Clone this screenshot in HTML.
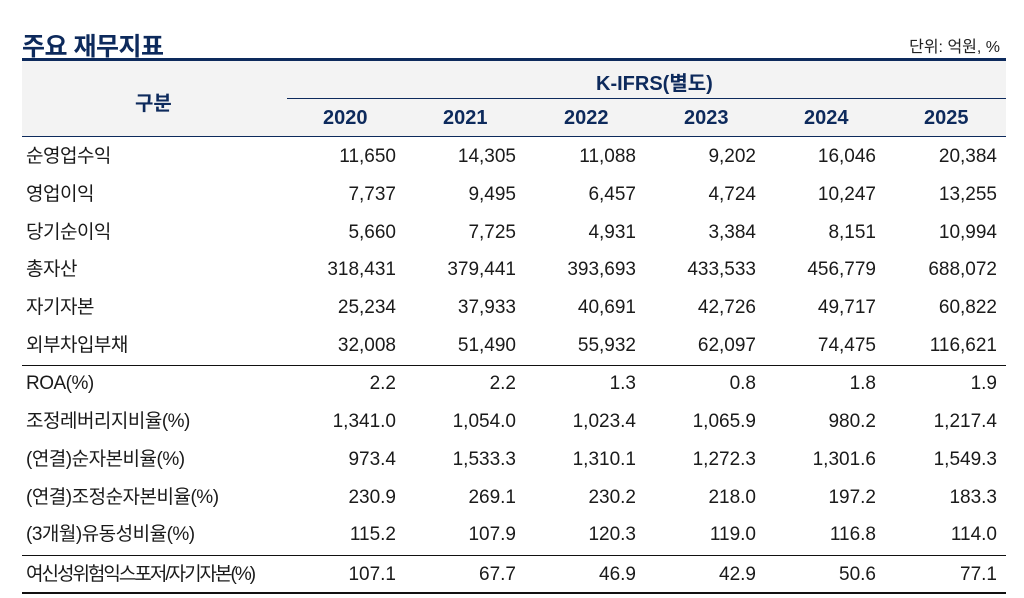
<!DOCTYPE html>
<html><head><meta charset="utf-8"><style>
body{margin:0;width:1024px;height:598px;background:#fff;position:relative;overflow:hidden;font-family:"Liberation Sans","Noto Sans CJK KR",sans-serif;}
div{position:absolute;white-space:nowrap}
.t{font-size:25px;font-weight:bold;color:#0d2a5c;left:22px;top:27px;letter-spacing:-0.5px}
.u{font-size:16px;color:#222;right:24px;top:33px}
.bg{left:22px;top:61px;width:984px;height:76px;background:#f3f3f3}
.ln{left:22px;width:984px;height:1px;background:#111}
.h{font-size:20px;font-weight:bold;color:#0d2a5c}
.r{font-size:19px;color:#1a1a1a;height:38px;line-height:38px}
.lab{left:26px;letter-spacing:-0.5px}
.n{text-align:right;width:110px}
</style></head><body>
<div class="t">주요 재무지표</div>
<div class="u">단위: 억원, %</div>
<div class="bg"></div>
<div style="left:22px;top:58px;width:984px;height:3px;background:#0d2a5c"></div>
<div style="left:287px;top:98px;width:719px;height:1px;background:#0d2a5c"></div>
<div style="left:22px;top:136px;width:984px;height:1px;background:#0d2a5c"></div>
<div class="h" style="left:135px;top:87px">구분</div>
<div class="h" style="left:596px;top:67px">K-IFRS(별도)</div>
<div class="h" style="left:323px;top:107px">2020</div>
<div class="h" style="left:443px;top:107px">2021</div>
<div class="h" style="left:564px;top:107px">2022</div>
<div class="h" style="left:684px;top:107px">2023</div>
<div class="h" style="left:804px;top:107px">2024</div>
<div class="h" style="left:924px;top:107px">2025</div>
<div class="ln" style="top:365px"></div>
<div class="ln" style="top:555px"></div>
<div class="ln" style="top:592px;height:2px;width:984px"></div>
<div id="rows"></div>
<script>
var d=[["순영업수익","11,650","14,305","11,088","9,202","16,046","20,384"],
["영업이익","7,737","9,495","6,457","4,724","10,247","13,255"],
["당기순이익","5,660","7,725","4,931","3,384","8,151","10,994"],
["총자산","318,431","379,441","393,693","433,533","456,779","688,072"],
["자기자본","25,234","37,933","40,691","42,726","49,717","60,822"],
["외부차입부채","32,008","51,490","55,932","62,097","74,475","116,621"],
["ROA(%)","2.2","2.2","1.3","0.8","1.8","1.9"],
["조정레버리지비율(%)","1,341.0","1,054.0","1,023.4","1,065.9","980.2","1,217.4"],
["(연결)순자본비율(%)","973.4","1,533.3","1,310.1","1,272.3","1,301.6","1,549.3"],
["(연결)조정순자본비율(%)","230.9","269.1","230.2","218.0","197.2","183.3"],
["(3개월)유동성비율(%)","115.2","107.9","120.3","119.0","116.8","114.0"],
["여신성위험익스포저/자기자본(%)","107.1","67.7","46.9","42.9","50.6","77.1"]];
var ys=[138,176,214,251,289,327,365,403,441,479,516,556];
var rx=[396,516,636,756,876,997],h="";
d.forEach(function(r,i){var y=ys[i];
h+='<div class="r lab" style="top:'+y+'px'+(i==11?';letter-spacing:-2px':'')+'">'+r[0]+'</div>';
for(var j=1;j<7;j++)h+='<div class="r n" style="top:'+y+'px;left:'+(rx[j-1]-110)+'px">'+r[j]+'</div>';});
document.getElementById('rows').outerHTML=h;
</script>
</body></html>
